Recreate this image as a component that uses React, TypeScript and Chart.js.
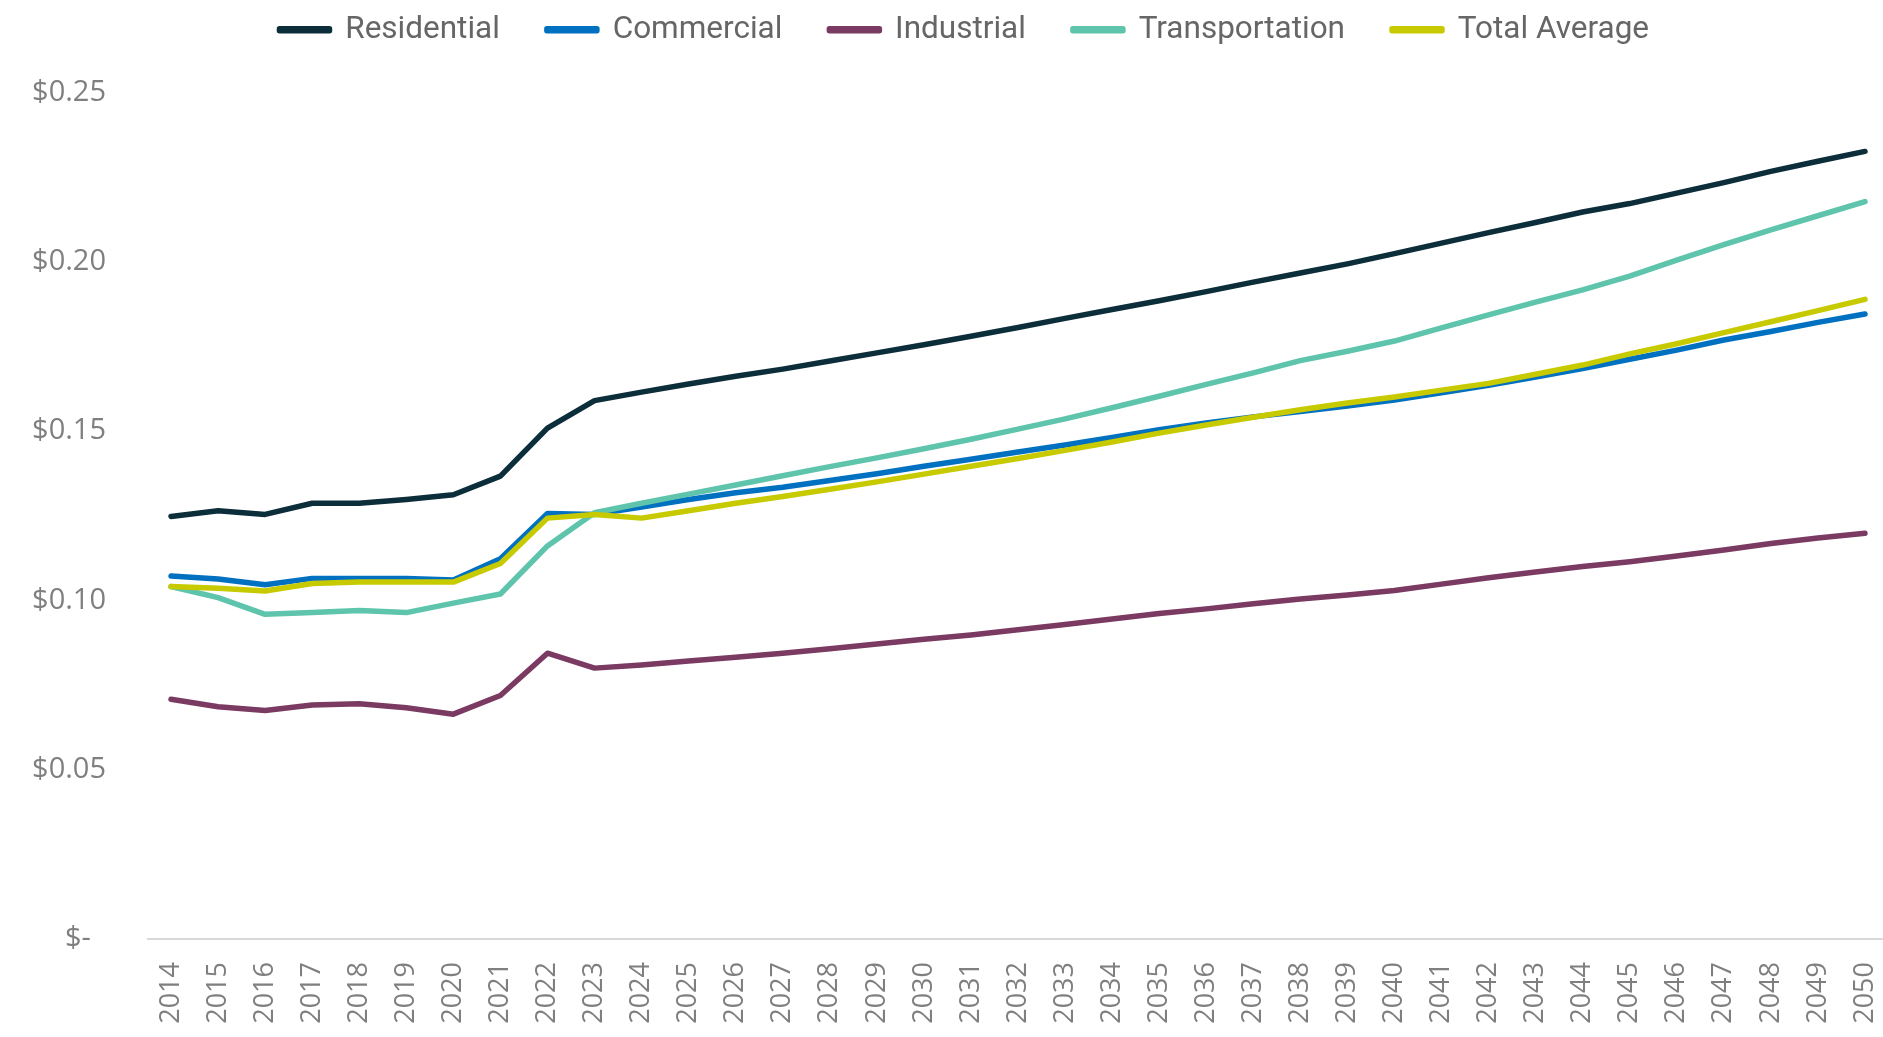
import React, { useEffect, useRef } from 'react';
import { Chart, registerables } from 'chart.js';

Chart.register(...registerables);

const years = [
  '2014', '2015', '2016', '2017', '2018', '2019', '2020', '2021', '2022', '2023',
  '2024', '2025', '2026', '2027', '2028', '2029', '2030', '2031', '2032', '2033',
  '2034', '2035', '2036', '2037', '2038', '2039', '2040', '2041', '2042', '2043',
  '2044', '2045', '2046', '2047', '2048', '2049', '2050',
];

const residential = [
  0.1248, 0.1265, 0.1254, 0.1287, 0.1287, 0.1298, 0.1312, 0.1367, 0.1509, 0.1590,
  0.1615, 0.1639, 0.1662, 0.1683, 0.1707, 0.1731, 0.1755, 0.1780, 0.1806, 0.1833,
  0.1859, 0.1885, 0.1912, 0.1940, 0.1967, 0.1994, 0.2024, 0.2055, 0.2086, 0.2116,
  0.2147, 0.2172, 0.2203, 0.2234, 0.2267, 0.2297, 0.2326,
];

const commercial = [
  0.1072, 0.1063, 0.1046, 0.1065, 0.1065, 0.1065, 0.1060, 0.1123, 0.1257, 0.1254,
  0.1276, 0.1298, 0.1318, 0.1334, 0.1354, 0.1374, 0.1396, 0.1417, 0.1438, 0.1459,
  0.1481, 0.1504, 0.1524, 0.1542, 0.1558, 0.1574, 0.1592, 0.1613, 0.1635, 0.1660,
  0.1685, 0.1712, 0.1739, 0.1769, 0.1794, 0.1821, 0.1846,
];

const industrial = [
  0.0708, 0.0686, 0.0675, 0.0691, 0.0695, 0.0683, 0.0664, 0.0719, 0.0844, 0.0800,
  0.0809, 0.0821, 0.0832, 0.0844, 0.0857, 0.0871, 0.0885, 0.0898, 0.0913, 0.0929,
  0.0945, 0.0961, 0.0975, 0.0990, 0.1004, 0.1016, 0.1029, 0.1048, 0.1067, 0.1084,
  0.1100, 0.1114, 0.1131, 0.1149, 0.1168, 0.1184, 0.1198,
];

const transportation = [
  0.1041, 0.1008, 0.0959, 0.0964, 0.0970, 0.0964, 0.0992, 0.1019, 0.1161, 0.1259,
  0.1287, 0.1314, 0.1341, 0.1368, 0.1395, 0.1421, 0.1448, 0.1476, 0.1506, 0.1536,
  0.1569, 0.1603, 0.1638, 0.1672, 0.1708, 0.1736, 0.1766, 0.1805, 0.1843, 0.1881,
  0.1917, 0.1958, 0.2005, 0.2051, 0.2094, 0.2136, 0.2178,
];

const totalAverage = [
  0.1041, 0.1036, 0.1028, 0.1050, 0.1054, 0.1054, 0.1054, 0.1109, 0.1243, 0.1254,
  0.1243, 0.1265, 0.1287, 0.1307, 0.1328, 0.1350, 0.1373, 0.1396, 0.1419, 0.1443,
  0.1468, 0.1494, 0.1518, 0.1541, 0.1563, 0.1583, 0.1601, 0.1621, 0.1641, 0.1668,
  0.1695, 0.1728, 0.1758, 0.1791, 0.1823, 0.1856, 0.1889,
];

const seriesNames = ['Residential', 'Commercial', 'Industrial', 'Transportation', 'Total Average'];
const seriesColors = ['#0c2d3a', '#0070c0', '#7a3a62', '#5ec4ab', '#c8ca00'];
const seriesValues = [residential, commercial, industrial, transportation, totalAverage];

const yTickValues = [0, 0.05, 0.1, 0.15, 0.2, 0.25];

const legendShift = {
  id: 'legendShift',
  afterLayout(chart: any) {
    if (chart.legend) {
      chart.legend.left += 20;
      chart.legend.right += 20;
    }
  },
};

export default function App() {
  const canvasRef = useRef<HTMLCanvasElement | null>(null);

  useEffect(() => {
    if (!canvasRef.current) return;
    const datasets = seriesNames.map((name, i) => ({
      label: name,
      data: seriesValues[i],
      borderColor: seriesColors[i],
      backgroundColor: seriesColors[i],
      borderWidth: 5.5,
      pointRadius: 0,
      pointHoverRadius: 0,
      tension: 0,
      borderCapStyle: 'round' as const,
      borderJoinStyle: 'round' as const,
      order: seriesNames.length - i,
    }));

    const chart = new Chart(canvasRef.current, {
      type: 'line',
      data: { labels: years, datasets },
      plugins: [legendShift],
      options: {
        animation: false,
        responsive: false,
        devicePixelRatio: 1,
        layout: { padding: { top: -33, left: 0, right: 11.5, bottom: 0 } },
        plugins: {
          legend: {
            position: 'top',
            weight: 3000,
            labels: {
              font: { family: 'Roboto', size: 31.5 },
              color: '#666666',
              boxWidth: 50,
              boxHeight: 2,
              padding: 47,
              sort: (a: any, b: any) => a.datasetIndex - b.datasetIndex,
            },
          },
          title: {
            display: true,
            text: ' ',
            font: { size: 10, lineHeight: 1 },
            padding: { top: 0, bottom: 27 },
          },
          tooltip: { enabled: false },
        },
        scales: {
          x: {
            type: 'category',
            offset: true,
            grid: { display: false, drawTicks: false, tickLength: 0 },
            border: { display: true, color: '#d9d9d9', width: 2 },
            ticks: {
              autoSkip: false,
              minRotation: 90,
              maxRotation: 90,
              padding: 23,
              color: '#7f7f7f',
              font: { family: 'Open Sans', size: 27 },
            },
            afterFit: (s: any) => {
              s.height = 98;
              s.paddingLeft = 0;
              s.paddingRight = 0;
            },
          },
          y: {
            min: 0,
            max: 0.25,
            grid: { display: false, drawTicks: false, tickLength: 0 },
            border: { display: false },
            afterBuildTicks: (s: any) => {
              s.ticks = yTickValues.map((v) => ({ value: v }));
            },
            ticks: {
              padding: 41.5,
              color: '#7f7f7f',
              font: { family: 'Open Sans', size: 29 },
              callback: (v: any) => (Number(v) === 0 ? '$-  ' : '$' + Number(v).toFixed(2)),
            },
            afterFit: (s: any) => {
              s.width = 147.5;
            },
          },
        },
      },
    });
    return () => chart.destroy();
  }, []);

  return (
    <div
      style={{
        position: 'fixed',
        left: 0,
        top: 0,
        width: 1883,
        height: 1037,
        overflow: 'hidden',
        background: '#ffffff',
      }}
    >
      <canvas ref={canvasRef} width={1900} height={1037} style={{ display: 'block' }} />
    </div>
  );
}
